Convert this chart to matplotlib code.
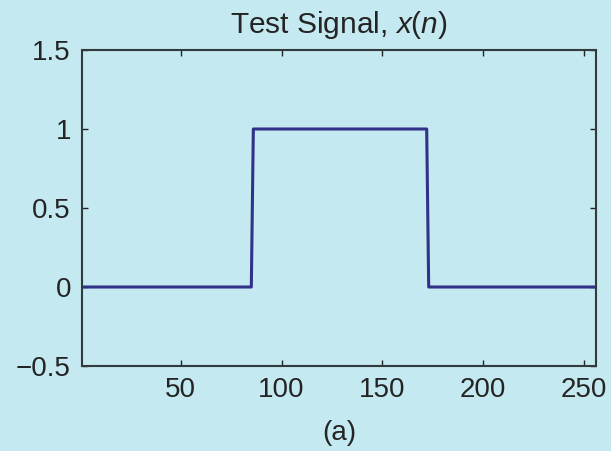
import numpy as np
import matplotlib.pyplot as plt

# test signal x(n), n = 1..256, rectangular pulse
n = np.arange(1, 257)
pulse_start = 86
pulse_end = 172
x = np.where((n >= pulse_start) & (n <= pulse_end), 1.0, 0.0)

xticks = [50, 100, 150, 200, 250]
yticks = [-0.5, 0, 0.5, 1, 1.5]
ytick_labels = ['\u22120.5', '0', '0.5', '1', '1.5']

bg = '#c4e9f0'
txt = '#242424'
plt.rcParams['font.family'] = ['Liberation Sans', 'DejaVu Sans']
plt.rcParams['mathtext.fontset'] = 'custom'
plt.rcParams['mathtext.it'] = 'Liberation Sans:italic'
plt.rcParams['mathtext.rm'] = 'Liberation Sans'

fig = plt.figure(figsize=(6.11, 4.51), dpi=100, facecolor=bg)
ax = fig.add_axes([82 / 611, 1 - 366 / 451, (596 - 82) / 611, (366 - 50) / 451])
ax.set_facecolor(bg)

ax.plot(n, x, color='#2f3288', linewidth=2.2)

ax.set_xlim(1, 256)
ax.set_ylim(-0.5, 1.5)
ax.set_xticks(xticks)
ax.set_yticks(yticks)
ax.set_yticklabels(ytick_labels)
ax.tick_params(direction='in', top=True, right=True, length=4, width=1,
               labelsize=20, colors=txt)
ax.tick_params(axis='y', pad=8)
ax.tick_params(axis='x', pad=8)

for s in ax.spines.values():
    s.set_color('#333a3c')
    s.set_linewidth(1.5)

ax.set_title('Test Signal, $\\mathit{x}$($\\mathit{n}$)', fontsize=21.5, color=txt, pad=12)
ax.set_xlabel('(a)', fontsize=20, color=txt, labelpad=12)

fig.savefig('out.png', dpi=100, facecolor=bg)
